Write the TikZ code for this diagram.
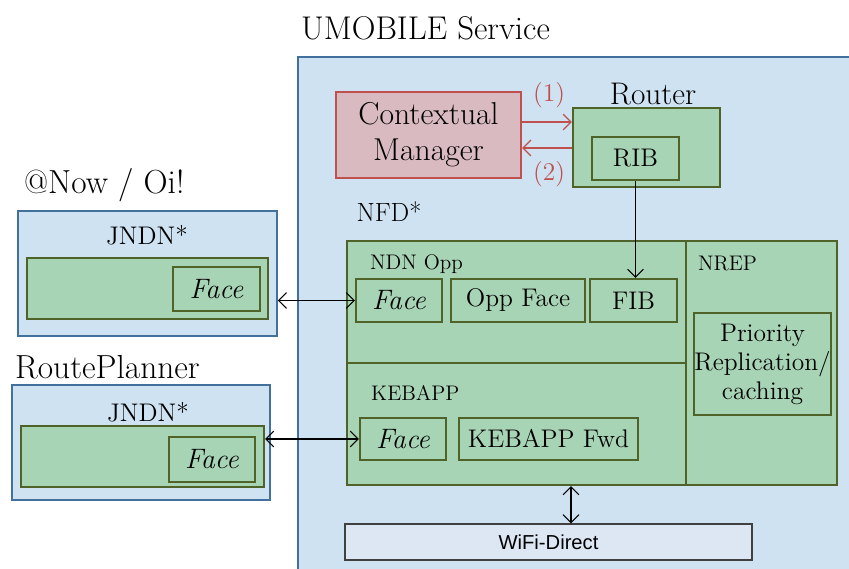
\documentclass[tikz,border=0pt]{standalone}
\usepackage{fontspec}
\usetikzlibrary{arrows.meta,positioning}
\newfontfamily\arialfont{Liberation Sans}
\definecolor{skyfill}{RGB}{206,226,242}
\definecolor{skyline}{RGB}{65,113,156}
\definecolor{leaffill}{RGB}{168,212,182}
\definecolor{leafline}{RGB}{79,98,40}
\definecolor{rosefill}{RGB}{217,186,192}
\definecolor{roseline}{RGB}{192,80,77}
\definecolor{wififill}{RGB}{221,231,243}

\begin{document}
\begin{tikzpicture}[
    bluebox/.style={draw=skyline, fill=skyfill, line width=1pt, inner sep=0pt},
    greenbox/.style={draw=leafline, fill=leaffill, line width=1.2pt, inner sep=0pt},
    bigtext/.style={font=\fontsize{19}{22}\selectfont},
    boxtext/.style={font=\fontsize{14.5}{16.5}\selectfont},
    facetext/.style={font=\fontsize{16}{18}\selectfont\itshape},
    smalltext/.style={font=\fontsize{12}{14}\selectfont},
    dlink/.style={{Straight Barb[length=4.5pt,width=9pt]}-{Straight Barb[length=4.5pt,width=9pt]}, line width=0.6pt},
    link/.style={-{Straight Barb[length=4.5pt,width=9pt]}, line width=0.6pt},
    redlink/.style={-{Straight Barb[length=4.5pt,width=9pt]}, line width=0.7pt, draw=roseline}
  ]
  \useasboundingbox (0,0) rectangle (16.98,11.38);

  % UMOBILE service
  \draw[bluebox] (5.96,-0.2) rectangle (17.2,10.24);
  \node[font=\fontsize{18.7}{22}\selectfont] (umobile) at (8.51,10.82) {UMOBILE Service};

  \node[draw=roseline, fill=rosefill, line width=1.2pt, inner sep=0pt, align=center,
        minimum width=3.70cm, minimum height=1.72cm, font=\fontsize{18}{20.5}\selectfont]
        (cm) at (8.57,8.68) {Contextual\\Manager};

  \node[greenbox, minimum width=2.94cm, minimum height=1.58cm] (router) at (12.93,8.43) {};
  \node[font=\fontsize{17.8}{20}\selectfont] (routerlbl) at (13.06,9.50) {Router};
  \node[greenbox, boxtext, minimum width=1.74cm, minimum height=0.86cm] (rib) at (12.71,8.21) {RIB};

  \coordinate (c1) at ([yshift=0.26cm]cm.east);
  \coordinate (c2) at ([yshift=-0.26cm]cm.east);
  \draw[redlink] (c1) -- (c1 -| router.west);
  \draw[redlink] (c2 -| router.west) -- (c2);
  \node[boxtext, text=roseline] (one) at (10.98,9.48) {(1)};
  \node[boxtext, text=roseline] (two) at (10.98,7.90) {(2)};

  % NFD
  \node[font=\fontsize{15}{17}\selectfont] (nfd) at (7.78,7.14) {NFD*};
  \node[greenbox, minimum width=6.78cm, minimum height=2.44cm] (ndnopp) at (10.33,5.34) {};
  \node[greenbox, minimum width=6.78cm, minimum height=2.44cm] (kebapp) at (10.33,2.90) {};
  \node[greenbox, minimum width=3.02cm, minimum height=4.88cm] (nrep) at (15.23,4.12) {};
  \node[smalltext, anchor=west] (ndnlbl) at (7.28,6.10) {NDN Opp};
  \node[smalltext, anchor=west] (kebapplbl) at (7.30,3.52) {KEBAPP};
  \node[smalltext, anchor=west] (nreplbl) at (13.84,6.10) {NREP};

  \node[greenbox, facetext, minimum width=1.72cm, minimum height=0.86cm] (faceN) at (7.98,5.37) {Face};
  \node[greenbox, boxtext, minimum width=2.68cm, minimum height=0.86cm] (oppface) at (10.36,5.37) {Opp Face};
  \node[greenbox, boxtext, minimum width=1.74cm, minimum height=0.86cm] (fib) at (12.67,5.37) {FIB};
  \node[greenbox, boxtext, align=center, minimum width=2.70cm, minimum height=2.04cm] (prio) at (15.25,4.10) {Priority\\Replication/\\caching};
  \node[greenbox, facetext, minimum width=1.72cm, minimum height=0.84cm] (faceK) at (8.06,2.60) {Face};
  \node[greenbox, boxtext, minimum width=3.58cm, minimum height=0.84cm] (kfwd) at (10.97,2.60) {KEBAPP Fwd};

  \draw[link] (rib.south) -- (rib.south |- fib.north);

  \node[draw=black!75, fill=wififill, line width=0.8pt, minimum width=8.14cm, minimum height=0.72cm,
        font=\arialfont\fontsize{11.5}{13}\selectfont] (wifi) at (10.97,0.54) {WiFi-Direct};
  \coordinate (wx) at (11.42,0);
  \draw[dlink] (kebapp.south -| wx) -- (wifi.north -| wx);

  % @Now / Oi!
  \node[bigtext, anchor=west] (nowlbl) at (0.36,7.68) {@Now / Oi!};
  \node[bluebox, minimum width=5.18cm, minimum height=2.50cm] (jndnA) at (2.95,5.91) {};
  \node[boxtext] (jndnAlbl) at (2.94,6.68) {JNDN*};
  \node[greenbox, minimum width=4.82cm, minimum height=1.22cm] (innerA) at (2.95,5.61) {};
  \node[greenbox, facetext, minimum width=1.74cm, minimum height=0.88cm] (faceA) at (4.33,5.60) {Face};
  \draw[dlink] (jndnA.east |- faceN.west) -- (faceN.west);

  % RoutePlanner
  \node[bigtext, anchor=west] (rplbl) at (0.18,4.04) {RoutePlanner};
  \node[bluebox, minimum width=5.16cm, minimum height=2.30cm] (jndnB) at (2.82,2.53) {};
  \node[boxtext] (jndnBlbl) at (2.96,3.14) {JNDN*};
  \node[greenbox, minimum width=4.86cm, minimum height=1.22cm] (innerB) at (2.85,2.25) {};
  \node[greenbox, facetext, minimum width=1.72cm, minimum height=0.90cm] (faceB) at (4.24,2.19) {Face};
  \draw[dlink] (faceK.west -| innerB.east) -- (faceK.west);
\end{tikzpicture}
\end{document}
